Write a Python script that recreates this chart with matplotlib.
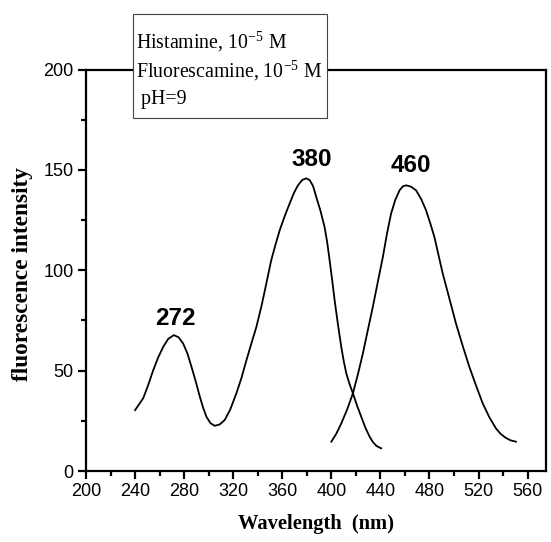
#!/usr/bin/env python3
"""
Fluorescence excitation / emission spectra of histamine + fluorescamine
"""

import matplotlib
matplotlib.use("Agg")
import matplotlib.pyplot as plt
from matplotlib.patches import Rectangle
from matplotlib.ticker import MultipleLocator

# excitation spectrum (nm, intensity)
exc_wl = [240, 243, 246.6, 250.5, 254.8, 258.8, 262.9, 267, 271.6, 275.5, 279.2,
          282.7, 286, 289.5, 292.8, 295.5, 298.2, 301.5, 305, 309, 313.1, 317.5,
          322.6, 326.8, 330.8, 334.8, 338.9, 343, 347, 351, 354.5, 357.9, 362,
          366, 369.5, 372.8, 376.3, 379.6, 382.5, 385.2, 387.7, 391.2, 394.5,
          396.6, 398.6, 400.7, 402.7, 405.4, 408.1, 410.2, 412.2, 414.9, 417.6,
          421, 424.4, 427.8, 431.2, 434, 437, 440.6]
exc_int = [30.3, 33, 36.2, 42.5, 50.2, 56.5, 61.8, 65.8, 67.7, 66.6, 63.5,
           58.5, 51.9, 44.5, 37, 31.5, 27, 23.8, 22.5, 23.2, 25.4, 30.5,
           38.7, 46.5, 55.2, 63.5, 71.8, 82, 93.4, 105, 112.8, 119.9, 127,
           133.2, 138.5, 142.3, 145, 145.8, 144.8, 141.8, 136.5, 129.5, 121.5,
           114, 105, 95, 85, 73, 61.8, 54.5, 48.6, 43.2, 38.7,
           32.5, 27, 21.5, 17.1, 14.3, 12.4, 11.3]

# emission spectrum
emi_wl = [400, 404, 408.1, 412.8, 417.6, 421.6, 425.7, 429.7, 433.8, 438, 442,
          445.3, 448.7, 452.1, 455.6, 458.3, 461, 465, 469.1, 473.2, 477.2,
          480.6, 484, 487.4, 490.8, 496.2, 501.6, 507, 512.5, 518, 523.4,
          528.8, 534.2, 538, 542, 546, 550.5]
emi_int = [14.6, 18.5, 23.7, 30.5, 38.7, 48, 58.5, 70, 81.7, 94.5, 106.6,
           118, 128.2, 135, 139.8, 141.8, 142.3, 141.6, 139.8, 135.5, 129.9,
           123.5, 116.6, 107.5, 98.4, 86, 73.5, 62.5, 51.9, 42.5, 33.7,
           26.8, 21.2, 18.5, 16.6, 15.3, 14.6]

peak_labels = ["272", "380", "460"]
peak_pos = [(273, 76), (384, 155.2), (465, 152.2)]

box_lines = [r"Histamine, 10$^{\mathregular{-5}}$ M",
             r"Fluorescamine, 10$^{\mathregular{-5}}$ M",
             " pH=9"]

W, H = 551, 542
fig = plt.figure(figsize=(W / 100, H / 100), dpi=100)
ax = fig.add_axes([86 / W, 1 - 471 / H, (546 - 86) / W, (471 - 69.5) / H])

ax.plot(exc_wl, exc_int, color="black", linewidth=1.3)
ax.plot(emi_wl, emi_int, color="black", linewidth=1.3)

for lab, (xx, yy) in zip(peak_labels, peak_pos):
    ax.text(xx, yy, lab, ha="center", va="center", fontsize=17.5,
            fontweight="bold", family="Liberation Sans")

ax.set_xlim(200, 575)
ax.set_ylim(0, 200)
ax.xaxis.set_minor_locator(MultipleLocator(20))
ax.yaxis.set_major_locator(MultipleLocator(50))
ax.yaxis.set_minor_locator(MultipleLocator(25))
ax.set_xticks(range(200, 561, 40))

for s in ax.spines.values():
    s.set_linewidth(1.6)
ax.tick_params(which="major", direction="out", length=6, width=1.6,
               labelsize=13, pad=3)
ax.tick_params(which="minor", direction="out", length=3.5, width=1.6)
ax.tick_params(top=False, right=False)
for lbl in ax.get_xticklabels() + ax.get_yticklabels():
    lbl.set_family("Liberation Sans")

ax.set_xlabel("Wavelength  (nm)", fontsize=14.8, fontweight="bold",
              family="Liberation Serif", labelpad=10)
ax.set_ylabel("fluorescence intensity", fontsize=16.8, fontweight="bold",
              family="Liberation Serif")
ax.yaxis.set_label_coords(-0.115, 0.49)

# info box sitting over the top spine
fig.patches.append(Rectangle((133 / W, 1 - 118 / H), (327 - 133) / W, (118 - 14) / H,
                             transform=fig.transFigure, facecolor="white",
                             edgecolor="#444444", linewidth=0.8, zorder=5))
for i, line in enumerate(box_lines):
    fig.text(136 / W, 1 - (42 + 29 * i) / H, line, ha="left", va="center",
             fontsize=14.3, family="Liberation Serif", zorder=6)

fig.savefig("out.png", dpi=100)
